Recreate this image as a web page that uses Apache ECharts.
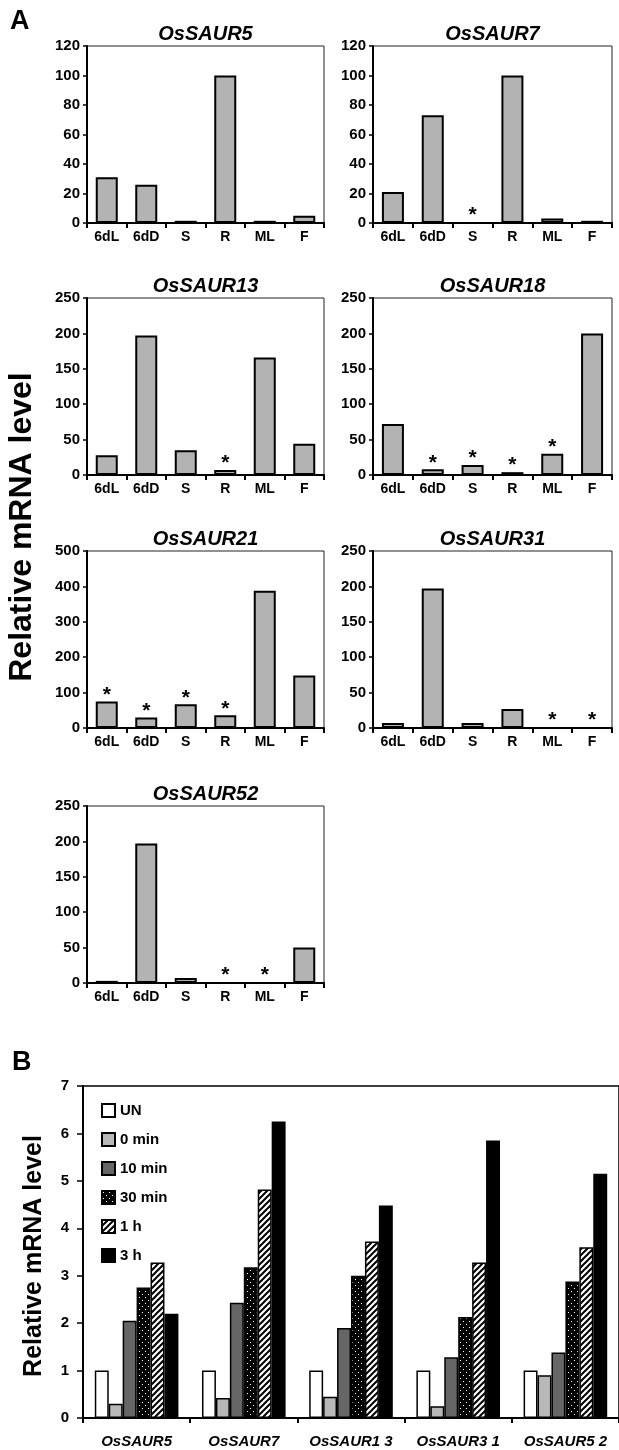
<!DOCTYPE html>
<html>
<head>
<meta charset="utf-8">
<script src="https://cdn.jsdelivr.net/npm/echarts@6/dist/echarts.min.js"></script>
<style>
  html, body { margin: 0; padding: 0; background: #fff; }
  #grafica { width: 619px; height: 1450px; }
</style>
</head>
<body>
<div id="grafica"></div>
<script>
// Panel A: expresion por tejido
var tejidos = ['6dL', '6dD', 'S', 'R', 'ML', 'F'];
var genesA = ['OsSAUR5', 'OsSAUR7', 'OsSAUR13', 'OsSAUR18', 'OsSAUR21', 'OsSAUR31', 'OsSAUR52'];
var saur5 = [31, 26, 1.5, 100, 1.5, 5];
var saur7 = [21, 73, 0, 100, 3, 1.5];
var saur13 = [28, 197, 35, 7, 166, 44];
var saur18 = [72, 8, 14, 4, 30, 200];
var saur21 = [75, 30, 67, 36, 388, 148];
var saur31 = [7, 197, 7, 27, 0, 0];
var saur52 = [3, 197, 7, 0, 0, 50];
// 1 = lleva asterisco
var marca5 = [0, 0, 0, 0, 0, 0];
var marca7 = [0, 0, 1, 0, 0, 0];
var marca13 = [0, 0, 0, 1, 0, 0];
var marca18 = [0, 1, 1, 1, 1, 0];
var marca21 = [1, 1, 1, 1, 0, 0];
var marca31 = [0, 0, 0, 0, 1, 1];
var marca52 = [0, 0, 0, 1, 1, 0];
var ejeMax = [120, 120, 250, 250, 500, 250, 250];
var ejeIntervalo = [20, 20, 50, 50, 100, 50, 50];

// Panel B: curso temporal
var genesB = ['OsSAUR5', 'OsSAUR7', 'OsSAUR1 3', 'OsSAUR3 1', 'OsSAUR5 2'];
var tiempos = ['UN', '0 min', '10 min', '30 min', '1 h', '3 h'];
var valUN = [1, 1, 1, 1, 1];
var val0min = [0.3, 0.42, 0.45, 0.25, 0.9];
var val10min = [2.05, 2.43, 1.9, 1.28, 1.38];
var val30min = [2.75, 3.18, 3.0, 2.13, 2.88];
var val1h = [3.28, 4.82, 3.72, 3.28, 3.6];
var val3h = [2.2, 6.25, 4.48, 5.85, 5.15];

var fuente = "'Liberation Sans', Arial, Helvetica, sans-serif";

function patronPuntos() {
     var c = document.createElement('canvas');
     c.width = 6; c.height = 6;
     var ctx = c.getContext('2d');
     ctx.fillStyle = '#000';
     ctx.fillRect(0, 0, 6, 6);
     ctx.fillStyle = '#fff';
     ctx.fillRect(1, 1, 1, 1);
     ctx.fillRect(4, 4, 1, 1);
     return c;
}

function patronRayas() {
     var c = document.createElement('canvas');
     c.width = 6; c.height = 6;
     var ctx = c.getContext('2d');
     ctx.fillStyle = '#fff';
     ctx.fillRect(0, 0, 6, 6);
     ctx.strokeStyle = '#000';
     ctx.lineWidth = 2;
     ctx.beginPath();
     ctx.moveTo(-1, 7); ctx.lineTo(7, -1);
     ctx.moveTo(-4, 4); ctx.lineTo(4, -4);
     ctx.moveTo(2, 10); ctx.lineTo(10, 2);
     ctx.stroke();
     return c;
}

var datosA = [saur5, saur7, saur13, saur18, saur21, saur31, saur52];
var marcasA = [marca5, marca7, marca13, marca18, marca21, marca31, marca52];

var colIzq = 87, colDer = 373, anchoIzq = 237, anchoDer = 239, altoA = 177;
var filas = [46, 298, 551, 806];

var grids = [], xAxes = [], yAxes = [], titulos = [], series = [];

for (var i = 0; i < genesA.length; i++) {
     var izq = (i % 2 === 0) ? colIzq : colDer;
     var ancho = (i % 2 === 0) ? anchoIzq : anchoDer;
     var arriba = filas[Math.floor(i / 2)];
     grids.push({
          left: izq, top: arriba, width: ancho, height: altoA,
          show: true, borderColor: '#222', borderWidth: 1, containLabel: false
     });
     titulos.push({
          text: genesA[i],
          left: izq + ancho / 2,
          top: arriba - 22,
          textAlign: 'center',
          padding: 0,
          textStyle: { fontFamily: fuente, fontSize: 20, fontWeight: 'bold', fontStyle: 'italic', color: '#000' }
     });
     xAxes.push({
          type: 'category',
          gridIndex: i,
          data: tejidos,
          axisLine: { lineStyle: { color: '#000', width: 2 } },
          axisTick: { show: true, length: 5, lineStyle: { color: '#000', width: 2 } },
          axisLabel: { interval: 0, margin: 7, fontFamily: fuente, fontSize: 14, fontWeight: 'bold', color: '#000' }
     });
     yAxes.push({
          type: 'value',
          gridIndex: i,
          min: 0,
          max: ejeMax[i],
          interval: ejeIntervalo[i],
          splitLine: { show: false },
          axisLine: { show: true, lineStyle: { color: '#000', width: 2 } },
          axisTick: { show: true, length: 4, lineStyle: { color: '#000', width: 1.5 } },
          axisLabel: { margin: 7, fontFamily: fuente, fontSize: 15, fontWeight: 'bold', color: '#000' }
     });
     (function (marcas) {
          series.push({
               type: 'bar',
               xAxisIndex: i,
               yAxisIndex: i,
               data: datosA[i],
               barWidth: 22,
               itemStyle: { color: '#b3b3b3', borderColor: '#000', borderWidth: 2 },
               label: {
                    show: true,
                    position: 'top',
                    distance: -4,
                    fontFamily: fuente,
                    fontSize: 21,
                    fontWeight: 'bold',
                    color: '#000',
                    formatter: function (p) { return marcas[p.dataIndex] ? '*' : ''; }
               }
          });
     })(marcasA[i]);
}

// Panel B
var gB = genesA.length;
grids.push({ left: 83, top: 1086, width: 540, height: 332, show: true, borderColor: '#000', borderWidth: 1.5 });
xAxes.push({
     type: 'category',
     gridIndex: gB,
     data: genesB,
     axisLine: { lineStyle: { color: '#000', width: 2 } },
     axisTick: { show: true, length: 5, lineStyle: { color: '#000', width: 2 } },
     axisLabel: { interval: 0, margin: 16, fontFamily: fuente, fontSize: 15, fontWeight: 'bold', fontStyle: 'italic', color: '#000' }
});
yAxes.push({
     type: 'value',
     gridIndex: gB,
     min: 0,
     max: 7,
     interval: 1,
     splitLine: { show: false },
     axisLine: { show: true, lineStyle: { color: '#000', width: 2 } },
     axisTick: { show: true, length: 6, lineStyle: { color: '#000', width: 1.5 } },
     axisLabel: { margin: 14, fontFamily: fuente, fontSize: 15, fontWeight: 'bold', color: '#000' }
});

var valoresB = [valUN, val0min, val10min, val30min, val1h, val3h];
var rellenos = [
     '#ffffff',
     '#b8b8b8',
     '#666666',
     { image: patronPuntos(), repeat: 'repeat' },
     { image: patronRayas(), repeat: 'repeat' },
     '#000000'
];
for (var k = 0; k < tiempos.length; k++) {
     series.push({
          name: tiempos[k],
          type: 'bar',
          xAxisIndex: gB,
          yAxisIndex: gB,
          data: valoresB[k],
          barGap: '0%',
          barCategoryGap: '22%',
          itemStyle: { color: rellenos[k], borderColor: '#000', borderWidth: 1.5 }
     });
}

var grafica = echarts.init(document.getElementById('grafica'), null, { renderer: 'canvas' });

grafica.setOption({
     animation: false,
     backgroundColor: '#fff',
     title: titulos,
     grid: grids,
     xAxis: xAxes,
     yAxis: yAxes,
     legend: {
          data: tiempos,
          orient: 'vertical',
          left: 96,
          top: 1098,
          icon: 'rect',
          itemWidth: 13,
          itemHeight: 13,
          itemGap: 14,
          selectedMode: false,
          textStyle: { fontFamily: fuente, fontSize: 15, fontWeight: 'bold', color: '#000' }
     },
     graphic: [
          { type: 'text', left: 10, top: 8, style: { text: 'A', font: 'bold 27px ' + fuente, fill: '#000' } },
          { type: 'text', left: 12, top: 1049, style: { text: 'B', font: 'bold 27px ' + fuente, fill: '#000' } },
          { type: 'text', x: 22, y: 527, rotation: Math.PI / 2,
            style: { text: 'Relative mRNA level', font: 'bold 32px ' + fuente, fill: '#000', align: 'center', verticalAlign: 'middle' } },
          { type: 'text', x: 34, y: 1256, rotation: Math.PI / 2,
            style: { text: 'Relative mRNA level', font: 'bold 25px ' + fuente, fill: '#000', align: 'center', verticalAlign: 'middle' } }
     ],
     series: series
});
</script>
</body>
</html>
